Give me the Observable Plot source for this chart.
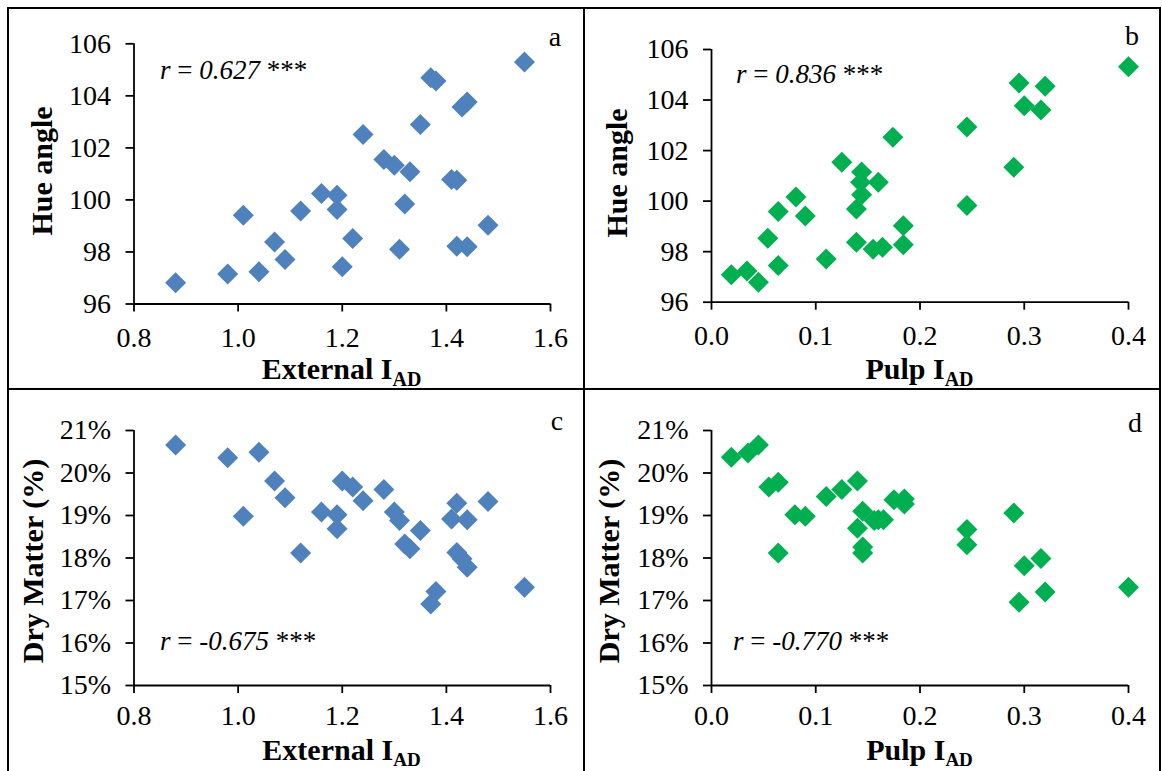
<!DOCTYPE html>
<html>
<head>
<meta charset="utf-8">
<script src="https://cdn.jsdelivr.net/npm/d3@7"></script>
<script src="https://cdn.jsdelivr.net/npm/@observablehq/plot@0.6"></script>
<style>
  html, body { margin: 0; padding: 0; background: #fff; }
  #root { position: relative; width: 1162px; height: 771px; overflow: hidden; background: #fff; }
  .cell { position: absolute; width: 576px; height: 381px; }
  .line { position: absolute; background: #000; }
</style>
</head>
<body>
<div id="root"></div>
<script>
// ---------- data ----------
// External I_AD (panels a and c)
const extA_x = [0.88,0.98,1.01,1.04,1.07,1.09,1.12,1.16,1.19,1.19,1.20,1.22,1.24,1.28,1.30,1.33,1.32,1.31,1.35,1.37,1.38,1.41,1.42,1.42,1.44,1.43,1.44,1.48,1.55];
const hueA_y = [96.82,97.15,99.41,97.24,98.38,97.71,99.57,100.25,100.18,99.63,97.43,98.52,102.51,101.55,101.33,101.08,99.84,98.10,102.90,104.70,104.57,100.78,100.76,98.22,98.20,103.57,103.76,99.03,105.30];

const extC_x = [0.88,0.98,1.04,1.01,1.07,1.09,1.12,1.16,1.19,1.19,1.20,1.22,1.24,1.28,1.30,1.31,1.32,1.33,1.35,1.37,1.38,1.41,1.42,1.42,1.43,1.44,1.44,1.48,1.55];
const dmC_y = [20.66,20.36,20.49,18.98,19.81,19.42,18.12,19.08,19.02,18.69,19.81,19.67,19.35,19.61,19.08,18.88,18.33,18.22,18.65,16.92,17.21,18.92,19.29,18.13,17.98,17.78,18.90,19.33,17.31];

// Pulp I_AD (panels b and d)
const pulpB_x = [0.019,0.034,0.045,0.054,0.064,0.064,0.081,0.090,0.110,0.125,0.139,0.139,0.144,0.143,0.144,0.155,0.160,0.164,0.174,0.184,0.184,0.245,0.245,0.290,0.295,0.300,0.316,0.320,0.400];
const hueB_y = [97.09,97.23,96.79,98.53,97.45,99.59,100.16,99.41,97.71,101.54,99.69,98.37,101.15,100.75,100.25,98.10,100.75,98.17,102.53,99.03,98.27,102.93,99.83,101.34,104.67,103.77,103.61,104.55,105.32];

const pulpD_x = [0.019,0.035,0.045,0.055,0.064,0.064,0.080,0.090,0.110,0.125,0.140,0.140,0.145,0.145,0.145,0.156,0.160,0.165,0.175,0.185,0.185,0.245,0.245,0.290,0.295,0.300,0.316,0.320,0.400];
const dmD_y = [20.37,20.47,20.66,19.67,19.78,18.12,19.02,18.98,19.45,19.61,19.81,18.70,19.10,18.26,18.12,18.88,18.90,18.90,19.37,19.39,19.27,18.67,18.31,19.06,16.96,17.82,17.99,17.20,17.31];

// tick values / labels
const extTicks = [0.8,1.0,1.2,1.4,1.6];
const pulpTicks = [0.0,0.1,0.2,0.3,0.4];
const hueTicks = [96,98,100,102,104,106];
const dmTicks = [15,16,17,18,19,20,21];

const panelLetters = ["a","b","c","d"];
const rValues = ["0.627","0.836","-0.675","-0.770"];
const signif = "***";
const yTitles = ["Hue angle","Hue angle","Dry Matter (%)","Dry Matter (%)"];
const xTitleMain = ["External I","Pulp I","External I","Pulp I"];
const xTitleSub = "AD";

const BLUE = "#4F81BD";
const GREEN = "#00B050";
const FONT = '"Liberation Serif", "Times New Roman", Times, serif';

// custom square diamond symbol (half-diagonal = r)
const diamondSym = {
  draw(ctx, size) {
    const r = Math.sqrt(size / Math.PI);
    ctx.moveTo(0, -r); ctx.lineTo(r, 0); ctx.lineTo(0, r); ctx.lineTo(-r, 0); ctx.closePath();
  }
};

const root = document.getElementById("root");

function panel(cfg) {
  const data = cfg.xs.map((x, i) => ({x, y: cfg.ys[i]}));
  const chart = Plot.plot({
    width: 576, height: 381,
    marginLeft: cfg.m[0], marginRight: cfg.m[1], marginTop: cfg.m[2], marginBottom: cfg.m[3],
    style: {fontFamily: FONT, fontSize: "28px", color: "#000", background: "transparent", overflow: "visible"},
    x: {domain: cfg.xDomain},
    y: {domain: cfg.yDomain},
    marks: [
      Plot.axisX({ticks: cfg.xTicks, tickFormat: d3.format(".1f"), tickSize: 8, tickPadding: cfg.xPad, strokeWidth: 1.8, label: null, fill: "#000"}),
      Plot.axisY({ticks: cfg.yTicks, tickFormat: cfg.yFmt, tickSize: 8, tickPadding: 15, strokeWidth: 1.8, label: null, fill: "#000"}),
      Plot.ruleX([cfg.xDomain[0]], {strokeWidth: 1.8}),
      Plot.ruleY([cfg.yDomain[0]], {strokeWidth: 1.8}),
      Plot.dot(data, {x: "x", y: "y", r: 10.5, symbol: diamondSym, fill: cfg.color, stroke: "none"})
    ]
  });
  const svg = d3.select(chart);
  // panel letter
  svg.append("text").attr("x", cfg.letterPos[0]).attr("y", cfg.letterPos[1])
    .attr("text-anchor", "middle").attr("font-family", FONT).attr("font-size", 28).attr("fill", "#000")
    .text(cfg.letter);
  // correlation
  const t = svg.append("text").attr("x", cfg.rPos[0]).attr("y", cfg.rPos[1])
    .attr("text-anchor", "start")
    .attr("font-family", FONT).attr("font-size", 27).attr("fill", "#000");
  t.append("tspan").attr("font-style", "italic").text("r");
  t.append("tspan").text(" = ");
  t.append("tspan").attr("font-style", "italic").text(cfg.r);
  t.append("tspan").text(" " + signif);
  // x title with subscript
  const xt = svg.append("text").attr("x", cfg.xTitlePos[0]).attr("y", cfg.xTitlePos[1])
    .attr("text-anchor", "middle").attr("font-family", FONT).attr("font-size", 30)
    .attr("font-weight", "bold").attr("fill", "#000");
  xt.append("tspan").text(cfg.xTitle);
  xt.append("tspan").attr("font-size", cfg.subSize).attr("dy", cfg.subDy).text(xTitleSub);
  // y title rotated
  svg.append("text")
    .attr("transform", `translate(${cfg.yTitlePos[0]},${cfg.yTitlePos[1]}) rotate(-90)`)
    .attr("text-anchor", "middle").attr("font-family", FONT).attr("font-size", 30)
    .attr("font-weight", "bold").attr("fill", "#000")
    .text(cfg.yTitle);

  const div = document.createElement("div");
  div.className = "cell";
  div.style.left = cfg.origin[0] + "px";
  div.style.top = cfg.origin[1] + "px";
  div.appendChild(chart);
  root.appendChild(div);
}

const pctFmt = d => d + "%";
const numFmt = d => String(d);

panel({xs: extA_x, ys: hueA_y, color: BLUE, xDomain: [0.8,1.6], xTicks: extTicks, yDomain: [96,106], yTicks: hueTicks, yFmt: numFmt,
  m: [125.5, 34, 35.3, 85.5], origin: [8, 8], letter: panelLetters[0], letterPos: [547, 38], r: rValues[0], rPos: [152, 71],
  xPad: 15, subSize: 20, subDy: 7,
  xTitle: xTitleMain[0], xTitlePos: [333.5, 371], yTitle: yTitles[0], yTitlePos: [44, 163]});
panel({xs: pulpB_x, ys: hueB_y, color: GREEN, xDomain: [0,0.4], xTicks: pulpTicks, yDomain: [96,106], yTicks: hueTicks, yFmt: numFmt,
  m: [127, 32, 41, 87.3], origin: [584, 8], letter: panelLetters[1], letterPos: [548, 37], r: rValues[1], rPos: [152, 75],
  xPad: 15, subSize: 20, subDy: 7,
  xTitle: xTitleMain[1], xTitlePos: [335.5, 371], yTitle: yTitles[1], yTitlePos: [43, 165]});
panel({xs: extC_x, ys: dmC_y, color: BLUE, xDomain: [0.8,1.6], xTicks: extTicks, yDomain: [15,21], yTicks: dmTicks, yFmt: pctFmt,
  m: [125.5, 34, 41, 85], origin: [8, 389], letter: panelLetters[2], letterPos: [549, 41], r: rValues[2], rPos: [152, 261],
  xPad: 12, subSize: 19, subDy: 6,
  xTitle: xTitleMain[2], xTitlePos: [333.5, 371], yTitle: yTitles[2], yTitlePos: [35, 172]});
panel({xs: pulpD_x, ys: dmD_y, color: GREEN, xDomain: [0,0.4], xTicks: pulpTicks, yDomain: [15,21], yTicks: dmTicks, yFmt: pctFmt,
  m: [127, 32, 41, 85], origin: [584, 389], letter: panelLetters[3], letterPos: [551, 43], r: rValues[3], rPos: [149, 261],
  xPad: 12, subSize: 19, subDy: 6,
  xTitle: xTitleMain[3], xTitlePos: [335.5, 371], yTitle: yTitles[3], yTitlePos: [35, 172]});

// panel border lines
function line(l, t, w, h) {
  const d = document.createElement("div");
  d.className = "line";
  Object.assign(d.style, {left: l + "px", top: t + "px", width: w + "px", height: h + "px"});
  root.appendChild(d);
}
line(7, 7, 1154, 2);
line(7, 388, 1154, 2);
line(7, 7, 2, 770);
line(583, 7, 2, 770);
line(1159, 7, 2, 770);
</script>
</body>
</html>
